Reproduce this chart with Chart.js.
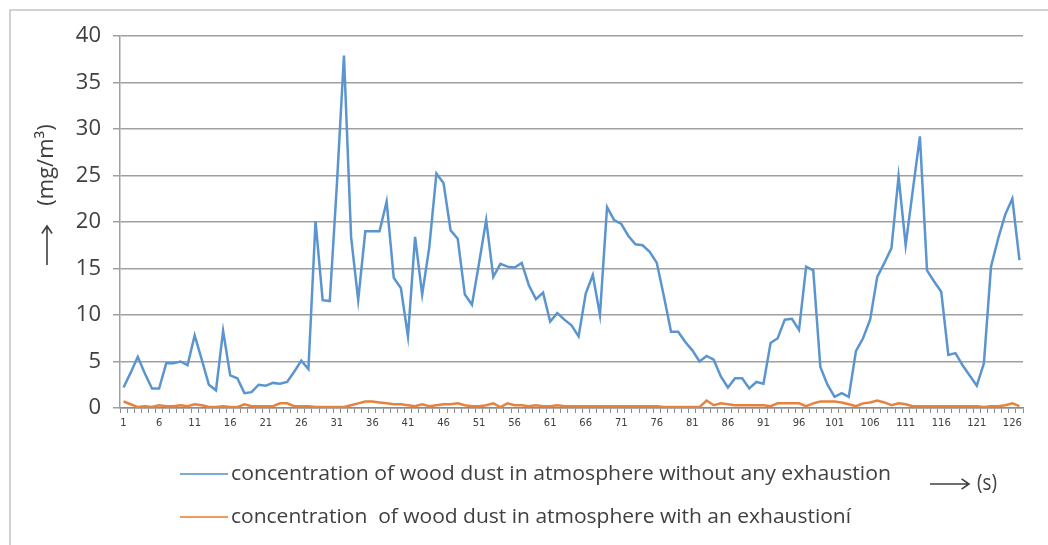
<!DOCTYPE html>
<html>
<head>
<meta charset="utf-8">
<script src="https://cdn.jsdelivr.net/npm/chart.js@4/dist/chart.umd.min.js"></script>
<style>
  html, body { margin: 0; padding: 0; background: #fff; }
  #wrap { width: 1048px; height: 545px; position: relative; }
</style>
</head>
<body>
<div id="wrap"><canvas id="chart"></canvas></div>
<script>
// time steps 1..127 (s)
const seconds = [];
for (let i = 1; i <= 127; i++) seconds.push(String(i));

// concentration without exhaustion (mg/m3)
const withoutExhaustion = [
  2.2, 3.8, 5.5, 3.7, 2.1, 2.1, 4.8, 4.8, 5.0, 4.6,
  7.8, 5.2, 2.5, 1.9, 8.3, 3.5, 3.2, 1.6, 1.7, 2.5,
  2.4, 2.7, 2.6, 2.8, 3.9, 5.1, 4.2, 20.1, 11.6, 11.5,
  24.0, 37.9, 18.4, 11.6, 19.0, 19.0, 19.0, 22.2, 14.0, 12.9,
  7.7, 18.4, 12.2, 17.3, 25.2, 24.2, 19.1, 18.2, 12.2, 11.1,
  15.6, 20.2, 14.1, 15.5, 15.2, 15.1, 15.6, 13.2, 11.7, 12.4,
  9.3, 10.2, 9.5, 8.9, 7.7, 12.3, 14.3, 10.0, 21.6, 20.2,
  19.8, 18.5, 17.6, 17.5, 16.8, 15.6, 12.0, 8.2, 8.2, 7.1,
  6.2, 5.0, 5.6, 5.2, 3.4, 2.2, 3.2, 3.2, 2.1, 2.8,
  2.6, 7.0, 7.5, 9.5, 9.6, 8.4, 15.2, 14.8, 4.4, 2.5,
  1.2, 1.6, 1.2, 6.1, 7.5, 9.5, 14.1, 15.6, 17.2, 24.9,
  17.5, 23.4, 29.2, 14.8, 13.6, 12.5, 5.7, 5.9, 4.6, 3.5,
  2.4, 4.8, 15.2, 18.2, 20.8, 22.5, 15.9
];

// concentration with exhaustion (mg/m3)
const withExhaustion = [
  0.7, 0.4, 0.1, 0.2, 0.1, 0.3, 0.2, 0.2, 0.3, 0.2,
  0.4, 0.3, 0.1, 0.1, 0.2, 0.1, 0.1, 0.4, 0.2, 0.2,
  0.2, 0.2, 0.5, 0.5, 0.2, 0.2, 0.2, 0.1, 0.1, 0.1,
  0.1, 0.1, 0.3, 0.5, 0.7, 0.7, 0.6, 0.5, 0.4, 0.4,
  0.3, 0.2, 0.4, 0.2, 0.3, 0.4, 0.4, 0.5, 0.3, 0.2,
  0.2, 0.3, 0.5, 0.1, 0.5, 0.3, 0.3, 0.2, 0.3, 0.2,
  0.2, 0.3, 0.2, 0.2, 0.2, 0.2, 0.2, 0.2, 0.2, 0.2,
  0.2, 0.2, 0.2, 0.2, 0.2, 0.2, 0.1, 0.1, 0.1, 0.1,
  0.1, 0.1, 0.8, 0.3, 0.5, 0.4, 0.3, 0.3, 0.3, 0.3,
  0.3, 0.2, 0.5, 0.5, 0.5, 0.5, 0.2, 0.5, 0.7, 0.7,
  0.7, 0.6, 0.4, 0.2, 0.5, 0.6, 0.8, 0.6, 0.3, 0.5,
  0.4, 0.2, 0.2, 0.2, 0.2, 0.2, 0.2, 0.2, 0.2, 0.2,
  0.2, 0.1, 0.2, 0.2, 0.3, 0.5, 0.2
];

const legendLabels = [
  'concentration of wood dust in atmosphere without any exhaustion',
  'concentration  of wood dust in atmosphere with an exhaustioní'
];

const blue = '#5b95cf';
const orange = '#e8823a';
const textColor = '#404040';

// thin arrow with an open head, like the ones typed in the original
function drawArrow(ctx, x1, y1, x2, y2) {
  const a = Math.atan2(y2 - y1, x2 - x1);
  const h = 9;
  ctx.beginPath();
  ctx.moveTo(x1, y1);
  ctx.lineTo(x2, y2);
  ctx.moveTo(x2 - h * Math.cos(a - 0.6), y2 - h * Math.sin(a - 0.6));
  ctx.lineTo(x2, y2);
  ctx.lineTo(x2 - h * Math.cos(a + 0.6), y2 - h * Math.sin(a + 0.6));
  ctx.stroke();
}

// frame, axis titles and the legend below the plot
const decorations = {
  id: 'decorations',
  afterDraw(chart) {
    const ctx = chart.ctx;
    ctx.save();

    // outer frame (left and top edges)
    ctx.strokeStyle = '#c4c4c4';
    ctx.lineWidth = 1.5;
    ctx.beginPath();
    ctx.moveTo(10, 545);
    ctx.lineTo(10, 10);
    ctx.lineTo(1048, 10);
    ctx.stroke();

    ctx.fillStyle = textColor;
    ctx.strokeStyle = textColor;
    ctx.lineWidth = 1.6;
    ctx.font = '20px "Open Sans", sans-serif';
    ctx.textBaseline = 'middle';

    // y axis title: arrow plus unit, rotated
    drawArrow(ctx, 47, 265, 47, 226);
    ctx.save();
    ctx.translate(47, 165);
    ctx.rotate(-Math.PI / 2);
    ctx.textAlign = 'center';
    ctx.font = '22px "Open Sans", sans-serif';
    ctx.scale(1.0, 1);
    ctx.fillText('(mg/m\u00B3)', 0, 0);
    ctx.restore();

    // legend
    const colors = [blue, orange];
    const rows = [474, 517];
    rows.forEach((y, i) => {
      ctx.strokeStyle = colors[i];
      ctx.globalAlpha = 0.8;
      ctx.lineWidth = 2;
      ctx.beginPath();
      ctx.moveTo(180, y);
      ctx.lineTo(228, y);
      ctx.stroke();
      ctx.globalAlpha = 1;

      const w = ctx.measureText(legendLabels[i]).width;
      const target = i === 0 ? 660 : 620;
      ctx.save();
      ctx.translate(231, y);
      ctx.scale(Math.min(1.15, target / w), 1);
      ctx.textAlign = 'left';
      ctx.fillText(legendLabels[i], 0, 0);
      ctx.restore();
    });

    // x axis title
    ctx.strokeStyle = textColor;
    ctx.lineWidth = 1.6;
    drawArrow(ctx, 930, 484, 969, 484);
    ctx.save();
    ctx.translate(977, 484);
    ctx.font = '22px "Open Sans", sans-serif';
    ctx.scale(0.85, 1);
    ctx.textAlign = 'left';
    ctx.fillText('(s)', 0, 0);
    ctx.restore();

    ctx.restore();
  }
};

new Chart(document.getElementById('chart'), {
  type: 'line',
  data: {
    labels: seconds,
    datasets: [{
      label: legendLabels[0],
      data: withoutExhaustion,
      borderColor: blue,
      borderWidth: 2.5,
      pointRadius: 0,
      tension: 0
    }, {
      label: legendLabels[1],
      data: withExhaustion,
      borderColor: orange,
      borderWidth: 2.5,
      pointRadius: 0,
      tension: 0
    }]
  },
  options: {
    responsive: true,
    maintainAspectRatio: false,
    animation: false,
    layout: {
      padding: { left: 10, top: 36, right: 25, bottom: 0 }
    },
    scales: {
      x: {
        offset: true,
        grid: {
          display: true,
          drawOnChartArea: false,
          drawTicks: true,
          tickLength: 5,
          color: '#8c8c8c',
          offset: true
        },
        border: { color: '#8c8c8c', width: 1.5 },
        ticks: {
          autoSkip: false,
          maxRotation: 0,
          padding: 4,
          color: textColor,
          font: { family: 'DejaVu Sans', size: 10 },
          callback: function (value, index) {
            return index % 5 === 0 ? this.getLabelForValue(value) : '';
          }
        },
        afterFit(scale) { scale.height = 137; }
      },
      y: {
        min: 0,
        max: 40,
        ticks: {
          stepSize: 5,
          padding: 12,
          color: textColor,
          font: { family: '"Open Sans", sans-serif', size: 22 }
        },
        grid: {
          color: '#a0a0a0',
          lineWidth: 1.5,
          tickLength: 7
        },
        border: { color: '#a0a0a0', width: 1.5 },
        afterFit(scale) { scale.width = 110; }
      }
    },
    plugins: {
      legend: { display: false },
      title: { display: false },
      tooltip: { enabled: false }
    }
  },
  plugins: [decorations]
});
</script>
</body>
</html>
